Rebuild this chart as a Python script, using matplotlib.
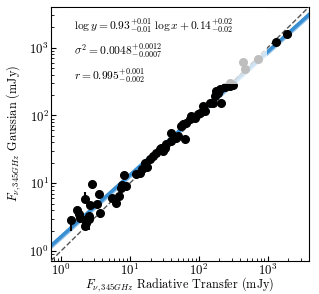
import numpy as np
import matplotlib
matplotlib.use("Agg")
import matplotlib.pyplot as plt
from matplotlib.patches import Rectangle

plt.rcParams['font.family'] = 'serif'
plt.rcParams['font.serif'] = ['cmr10', 'DejaVu Serif']
plt.rcParams['mathtext.fontset'] = 'cm'
plt.rcParams['axes.unicode_minus'] = False
plt.rcParams['axes.formatter.use_mathtext'] = True

# flux densities (mJy): radiative transfer vs gaussian fit
flux_rt = [1.38, 1.69, 1.84, 1.88, 2.23, 2.23, 2.30, 2.40, 2.57, 2.63, 2.57,
           2.84, 3.29, 3.59, 3.67, 5.43, 6.21, 7.00, 7.41, 7.59, 8.19, 8.75,
           12.5, 14.0, 14.8, 16.5, 17.5, 19.5, 21.8, 24.4, 27.2, 30.4, 28.8,
           32.1, 34.0, 40.2, 40.2, 47.5, 50.1, 62.7, 56.1, 59.2, 66.3, 74.1,
           78.4, 87.5, 97.7, 103, 115, 122, 144, 161, 171, 181, 190, 201,
           213, 238, 281, 314, 288, 439, 464, 723, 1306, 1905]
flux_gauss = [2.87, 4.03, 3.48, 3.11, 5.93, 2.34, 2.62, 3.00, 3.28, 4.72, 2.94,
              9.6, 4.93, 7.03, 3.68, 5.99, 5.05, 6.47, 8.41, 9.31, 13.2, 9.1,
              13.5, 14.0, 16.0, 20.1, 17.2, 22.5, 25.2, 28.3, 31.6, 29.9, 33.5,
              33.5, 37.5, 41.9, 55.7, 47.1, 49.7, 44.4, 69.8, 73.9, 78.3, 87.6,
              98.0, 92.8, 104, 110, 138, 116, 155, 155, 193, 229, 217, 248,
              151, 266, 272, 278, 305, 614, 479, 689, 1210, 1607]
err_lo = [0.9, 0.4, 0.3, 0.3, 0.6, 0.2, 0.2, 0.2, 0.2, 0.3, 0.9,
          0.5, 0.3, 0.4, 0.6, 0.2, 0.2, 0.3, 0.3, 0.3, 0.4, 0.3] + [0.0] * 44
err_hi = [0.4, 0.4, 0.3, 0.3, 1.4, 0.2, 0.2, 0.2, 0.3, 0.3, 0.2,
          0.5, 0.3, 0.4, 0.2, 0.2, 0.2, 0.3, 0.3, 0.3, 0.4, 0.3] + [0.0] * 44

# drawn fit line (log-log) and its spread
fit_slope = 0.91
fit_icpt = 0.21
fit_spread = 0.045

lims = (0.72, 4000)

fig = plt.figure(figsize=(3.19, 2.94), dpi=100)
ax = fig.add_axes([0.160, 0.113, 0.809, 0.864])

xx = np.logspace(np.log10(lims[0]), np.log10(lims[1]), 200)
ly = fit_slope * np.log10(xx) + fit_icpt
ax.fill_between(xx, 10**(ly - fit_spread), 10**(ly + fit_spread),
                color='#8fc0e8', lw=0, zorder=1)
ax.plot(xx, 10**ly, color='#3a8fd2', lw=2.5, zorder=2)
ax.plot(lims, lims, ls='--', color='#555555', lw=1, zorder=3)

ax.errorbar(flux_rt, flux_gauss, yerr=[err_lo, err_hi], fmt='o', color='k',
            ms=5.5, elinewidth=1.5, capsize=0, zorder=4)

# semi-transparent white panel behind the fit summary
ax.add_patch(Rectangle((0.035, 0.695), 0.802, 0.30, transform=ax.transAxes,
                       facecolor='white', edgecolor='none', alpha=0.75,
                       zorder=5))
txt = (r'$\log y = 0.93^{+0.01}_{-0.01}\;\log x + 0.14^{+0.02}_{-0.02}$' '\n'
       r'$\sigma^2 = 0.0048^{+0.0012}_{-0.0007}$' '\n'
       r'$r = 0.995^{+0.001}_{-0.002}$')
ax.text(0.088, 0.963, txt, transform=ax.transAxes, fontsize=8.3, va='top',
        ha='left', linespacing=1.45, zorder=6)

ax.set_xscale('log')
ax.set_yscale('log')
ax.set_xlim(lims)
ax.set_ylim(lims)
ax.tick_params(which='both', direction='in', labelsize=9.2, pad=1.5)
ax.set_xlabel(r'$F_{\nu,345GHz}$ Radiative Transfer (mJy)', fontsize=8.8,
              va='center')
ax.set_ylabel(r'$F_{\nu,345GHz}$ Gaussian (mJy)', fontsize=8.8)
ax.xaxis.set_label_coords(0.5, -0.094)
ax.yaxis.set_label_coords(-0.11, 0.5)

fig.savefig('out.png', dpi=100)
